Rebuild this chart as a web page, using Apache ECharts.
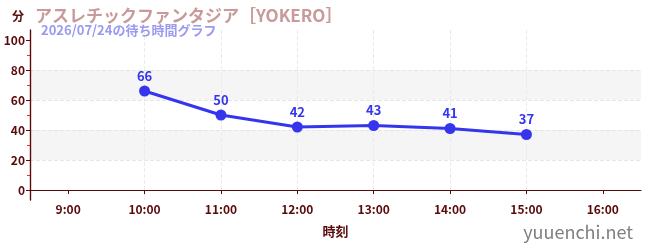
<!DOCTYPE html>
<html>
<head>
<meta charset="utf-8">
<script src="https://cdn.jsdelivr.net/npm/echarts@6/dist/echarts.min.js"></script>
<style>
html,body{margin:0;padding:0;background:#fff;}
#chart{width:650px;height:250px;}
</style>
</head>
<body>
<div id="chart"></div>
<script>
var hours = [9, 10, 11, 12, 13, 14, 15, 16];
var waits = [null, 66, 50, 42, 43, 41, 37, null];
var yTicks = [0, 20, 40, 60, 80, 100];
var yMinorTicks = [10, 30, 50, 70, 90];

var axisColor = '#5a0a0a';
var font = '"Noto Sans CJK JP", "Noto Sans", sans-serif';

var points = [];
for (var i = 0; i < hours.length; i++) {
    if (waits[i] != null) points.push([hours[i], waits[i]]);
}

var chart = echarts.init(document.getElementById('chart'));
chart.setOption({
    animation: false,
    textStyle: { fontFamily: font },
    title: [{
        text: 'アスレチックファンタジア［YOKERO］',
        left: 30, top: 2,
        textStyle: { color: '#c99a9a', fontSize: 17, fontWeight: 'bold', fontFamily: font }
    }, {
        text: '2026/07/24の待ち時間グラフ',
        left: 36, top: 19,
        textStyle: { color: '#9a9af0', fontSize: 13, fontWeight: 'bold', fontFamily: font }
    }, {
        text: 'yuuenchi.net',
        right: 12, bottom: 4,
        textStyle: { color: '#808080', fontSize: 18, fontWeight: 'normal', fontFamily: font }
    }],
    grid: { left: 30, right: 9, top: 30, bottom: 50 },
    xAxis: {
        type: 'value',
        min: 8.5,
        max: 16.5,
        splitNumber: 8,
        name: '時刻',
        nameLocation: 'middle',
        nameGap: 25,
        nameTextStyle: { color: axisColor, fontSize: 13, fontWeight: 'bold' },
        axisLine: { lineStyle: { color: axisColor, width: 1.2 } },
        axisTick: { length: 4, customValues: hours, lineStyle: { color: axisColor } },
        axisLabel: {
            color: axisColor, fontSize: 12, fontWeight: 'bold', margin: 3,
            customValues: hours,
            formatter: function (v) { return v + ':00'; }
        },
        splitLine: { show: true, showMinLine: false, showMaxLine: false, lineStyle: { color: '#ebebeb', type: 'dashed' } }
    },
    yAxis: [{
        type: 'value',
        min: -20 / 3,
        max: 320 / 3,
        name: '分',
        nameLocation: 'end',
        nameGap: 8,
        nameTextStyle: { color: axisColor, fontSize: 12, fontWeight: 'bold', align: 'right', padding: [0, 6, 0, 0] },
        axisLine: { show: true, lineStyle: { color: axisColor, width: 1.2 } },
        axisTick: { show: true, length: 4, customValues: yTicks, lineStyle: { color: axisColor } },
        axisLabel: { color: axisColor, fontSize: 12, fontWeight: 'bold', margin: 5, customValues: yTicks },
        splitLine: { show: true, showMinLine: false, showMaxLine: false, lineStyle: { color: '#e6e6e6', type: 'dashed' } },
        splitArea: { show: true, areaStyle: { color: ['rgba(0,0,0,0)', '#f5f5f5'] } }
    }, {
        type: 'value',
        position: 'left',
        min: -20 / 3,
        max: 320 / 3,
        axisLine: { show: true, lineStyle: { color: axisColor, width: 1.2 } },
        axisTick: { show: true, length: 3, customValues: yMinorTicks, lineStyle: { color: '#e03030' } },
        axisLabel: { show: false },
        splitLine: { show: false }
    }],
    series: [{
        type: 'line',
        data: points,
        yAxisIndex: 0,
        symbol: 'circle',
        symbolSize: 11,
        itemStyle: { color: '#3535ee' },
        lineStyle: { color: '#3535ee', width: 3 },
        label: {
            show: true,
            position: 'top',
            distance: 3,
            color: '#3535ee',
            fontSize: 13,
            fontWeight: 'bold',
            formatter: function (p) { return p.value[1]; }
        }
    }]
});
</script>
</body>
</html>
